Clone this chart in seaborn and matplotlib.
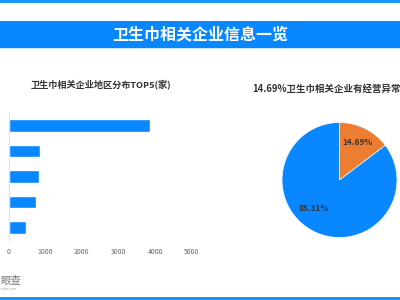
import matplotlib
matplotlib.use("Agg")
import matplotlib.pyplot as plt
import seaborn as sns
import pandas as pd
from matplotlib.patches import Rectangle

# ---- data ----
regions = ["地区1", "地区2", "地区3", "地区4", "地区5"]
counts = [3860, 855, 820, 737, 464]
x_ticks = [0, 1000, 2000, 3000, 4000, 5000]
pie_labels = ["经营异常", "无经营异常"]
pie_values = [14.69, 85.31]

main_title = "卫生巾相关企业信息一览"
bar_title = "卫生巾相关企业地区分布TOP5(家)"
pie_title = "14.69%卫生巾相关企业有经营异常"

BLUE = "#0887FF"
ORANGE = "#ED7D31"
TXT = "#333333"

sns.set_theme(style="white")
plt.rcParams["font.family"] = ["Noto Sans CJK SC", "DejaVu Sans"]

W, H = 400, 300
fig = plt.figure(figsize=(4, 3), dpi=100)
fig.patch.set_facecolor("white")

def fx(px):
    return px / W

def fy(py):
    return 1 - py / H

# decorations
fig.add_artist(Rectangle((0, fy(2.5)), 1, 2.5 / H, transform=fig.transFigure,
                         color="#1A95FF", lw=0))
fig.add_artist(Rectangle((0, fy(47.5)), 1, 26.5 / H, transform=fig.transFigure,
                         color=BLUE, lw=0))
fig.add_artist(Rectangle((0, fy(49)), 1, 1.5 / H, transform=fig.transFigure,
                         color="#CFE6FF", lw=0))
fig.add_artist(Rectangle((0, 0), 1, 3 / H, transform=fig.transFigure,
                         color="#1A95FF", lw=0))
fig.text(0.5, fy(34.5), main_title, color="white", fontsize=11.5,
         fontweight="bold", ha="center", va="center")

# ---- bar chart ----
ax = fig.add_axes([fx(8.7), fy(240), fx(183), 127 / H])
df = pd.DataFrame({"region": regions, "count": counts})
sns.barplot(data=df, y="region", x="count", orient="h", color=BLUE,
            width=0.5, saturation=1, ax=ax)
ax.set_xlim(0, 5000)
ax.set_ylim(4.5, -0.5)
ax.set_xticks(x_ticks)
ax.set_xticklabels([str(t) for t in x_ticks], fontsize=4.9, color="#666666")
ax.tick_params(axis="x", length=0, pad=6)
ax.set_yticks([])
ax.set_xlabel("")
ax.set_ylabel("")
for s in ["top", "right", "bottom"]:
    ax.spines[s].set_visible(False)
ax.spines["left"].set_color("#DDDDDD")
ax.spines["left"].set_linewidth(0.8)
ax.set_facecolor("none")
fig.text(fx(101), fy(85), bar_title, fontsize=6.6, fontweight="bold",
         color=TXT, ha="center", va="center")

# ---- pie ----
r = 57.5
pax = fig.add_axes([fx(339.5 - r), fy(180 + r), 2 * r / W, 2 * r / H])
wedges, texts, autotexts = pax.pie(
    pie_values, colors=[ORANGE, BLUE], startangle=90, counterclock=False,
    autopct="%.2f%%", pctdistance=0.72, radius=1,
    wedgeprops=dict(edgecolor="white", linewidth=0.5),
    textprops=dict(fontsize=6, color=TXT, fontweight="bold"))
autotexts[1].set_position((-0.45, -0.49))
pax.set_xlim(-1, 1)
pax.set_ylim(-1, 1)
pax.set_aspect("auto")
pax.axis("off")
fig.text(fx(252), fy(89), pie_title, fontsize=6.8, fontweight="bold",
         color=TXT, ha="left", va="center")

# watermark
fig.text(fx(0.5), fy(281), "眼查", fontsize=7.5, color="#777777",
         ha="left", va="center")
fig.text(fx(0.5), fy(289), "ncha.com", fontsize=2.5, color="#999999",
         ha="left", va="center")

fig.savefig("out.png", dpi=100)
